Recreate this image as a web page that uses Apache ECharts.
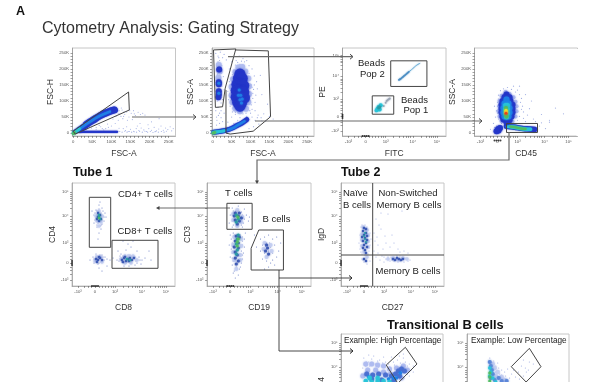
<!DOCTYPE html>
<html><head><meta charset="utf-8">
<style>html,body{margin:0;background:#fff}#c{width:600px;height:382px;filter:blur(0.45px)}</style>
<script src="https://cdn.jsdelivr.net/npm/echarts@6/dist/echarts.min.js"></script></head>
<body><div id="c"></div>
<script>
// tick values and labels
const linTicks=[0,50,100,150,200,250];
const linMinor=[0,10,20,30,40,50,60,70,80,90,100,110,120,130,140,150,160,170,180,190,200,210,220,230,240,250];
const biexTicks=[-17,0,20,47,71];
const biexLabels=['-10³','0','10³','10⁴','10⁵'];
const biexMinor=[-17,-11,-7,-4,0,4,7,10,13,16,18,20,28,33,37,40,42,44,47,55,60,63,65,67,69,71];

// gates (polygons in axis units)
const gateSinglets=[[0,6],[145,128],[147,72],[5,-3],[0,6]];
const gateGran=[[2,259],[61,262],[33,140],[26,82],[7,80],[2,259]];
const gateCells=[[59,259],[147,256],[153,51],[107,6],[46,-3],[35,0],[35,134]];
const gateBeads2=[[25,65],[61,65],[61,35],[25,35],[25,65]];
const gateBeads1=[[6.6,24],[28,24],[28,2.5],[6.6,2.5],[6.6,24]];
const gateLymph=[[9,30],[40,30],[40,2],[9,2],[9,30]];
const gateCD4=[[-5.7,65.7],[15.7,65.7],[15.7,15.7],[-5.7,15.7],[-5.7,65.7]];
const gateCD8=[[17,22.7],[63,22.7],[63,-5.3],[17,-5.3],[17,22.7]];
const gateT=[[-3.3,59.7],[21.7,59.7],[21.7,33.7],[-3.3,33.7],[-3.3,59.7]];
const gateB=[[28.3,33],[52.7,33],[52.7,-7],[20.7,-7],[20.7,14.7],[28.3,33]];
const quadV=[[8.7,-23],[8.7,80]];
const quadH=[[-23,8],[80,8]];
const gateHigh=[[42,66.7],[53.7,50],[34.4,30.7],[22.7,49],[42,66.7]];
const gateLow=[[40,65.7],[51.7,47.3],[36.7,32],[21.7,47.3],[40,65.7]];

// FSC-A / FSC-H
const p1Speck=[[122,60],[128,72],[135,58],[140,66],[146,50],[152,62],[158,70],[163,55],[170,65],[176,58],[182,62],[188,56],[130,45],[142,40],[155,42],[125,52],[118,40],[110,30],[100,22],[92,18],[85,14],[150,12],[158,6],[165,14],[172,8],[178,16],[185,10],[192,5],[198,14],[205,9],[212,18],[218,7],[224,13],[230,22],[236,9],[242,16],[248,11],[254,20],[258,7],[262,14],[140,20],[120,15],[205,35],[175,30],[225,45],[60,12],[72,20],[48,16],[80,10],[35,12],[126,78],[133,66],[120,70],[137,8],[144,5],[131,14],[168,22],[196,26],[244,6],[214,4],[122,5],[128,3],[135,6],[141,3],[147,5],[153,3],[160,4],[166,3],[174,5],[181,3],[188,6],[195,3],[202,5],[209,2],[216,5],[223,3],[231,5],[238,3],[60,18],[68,24],[76,14],[90,28],[104,44],[112,52],[118,60],[132,52],[160,60],[148,70]];
const p1BandA=[[3,3],[20,18],[40,33]];
const p1BandB=[[35,28],[50,39],[70,54],[90,65],[108,72]];
const p1BandAz=[[14,11],[34,28],[54,43],[74,56],[96,67]];
const p1BandCy=[[0,0],[8,6],[16,13]];
const p1Hor=[[6,4],[40,4],[80,4],[115,4]];
const p1Branch=[[18,5],[28,14],[40,26]];
const p1Green=[[1,-1],[3,2]];

// FSC-A / SSC-A
const p2Speck=[[8,248],[14,240],[20,252],[26,235],[18,226],[10,215],[24,210],[30,245],[36,228],[16,200],[22,188],[12,182],[28,176],[18,170],[9,140],[24,146],[30,135],[12,100],[22,94],[26,104],[8,70],[15,55],[22,48],[11,40],[26,36],[18,30],[30,62],[10,25],[44,200],[50,222],[56,238],[62,226],[70,240],[80,232],[90,226],[96,210],[104,200],[110,178],[116,160],[118,138],[114,118],[112,96],[104,74],[100,62],[90,52],[120,56],[128,48],[135,60],[140,38],[112,40],[122,28],[108,20],[96,14],[44,160],[40,130],[42,104],[46,84],[52,66],[60,58],[72,48],[84,222],[60,212],[102,150],[108,136],[50,50],[40,34],[145,90],[130,120],[126,180],[150,52],[160,44],
 [64,206],[72,214],[80,208],[88,198],[56,196],[52,182],[96,186],[100,168],[48,170],[46,146],[104,142],[106,124],[46,118],[48,96],[106,108],[102,88],[52,78],[98,70],[60,64],[70,62],[80,60],[88,62],[66,220],[76,224],[94,172],[48,132],[110,150],[112,70],[130,38],[118,48],[104,50],[56,30],[66,40],[16,235],[14,222],[20,205],[14,190],[8,165],[22,70],[14,80],[18,62],[10,50]];
const p2Pale=[[68,204],[78,206],[60,190],[86,192],[54,168],[94,170],[50,144],[96,146],[50,118],[96,122],[52,96],[94,96],[60,76],[88,76],[72,68],[16,212],[18,192],[15,172]];
const p2BlueBig=[[72,184],[68,170],[78,170],[64,152],[74,150],[82,148],[62,132],[72,130],[82,128],[62,112],[74,112],[84,110],[66,96],[76,94],[72,84]];
const p2BlueSmall=[[16,158],[16,152],[16,130],[16,120],[15,112],[17,198]];
const p2Azure=[[74,118],[72,104],[76,94],[70,134],[16,155],[16,124],[68,118],[78,106]];
const p2Band=[[3,3],[22,6],[44,12],[62,22],[78,32],[90,42]];
const p2BandAz=[[40,10],[54,16],[66,25],[84,37]];
const p2BandCy=[[1,2],[14,4],[30,7]];
const p2Green=[[1,0],[5,2]];

// FITC / PE
const p3Blue=[[33,42.6],[35,44],[37,46],[39,48],[41,50],[43,52]];
const p3Pale=[[43,52],[47,56],[51,60],[54,62]];
const p3Gray=[[21,18],[22,19],[23,20],[20,16],[24,21],[10,6],[18,12]];
const p3Cyan=[[12,9],[13,11],[15,13],[14,8],[11,7]];
const p3Teal=[[13,10],[14,11]];

// CD45 / SSC-A
const p4Speck=[[-1,70],[0,96],[1,118],[3,132],[6,138],[10,142],[14,136],[18,128],[24,108],[25,84],[26,66],[30,56],[36,44],[44,58],[52,40],[58,78],[34,100],[44,32],[52,34],[28,36],[-4,30],[-7,12],[-2,50],[-3,84],[22,146],[16,146],[28,120],[66,60],[32,76],[20,134],[22,120],[23,96],[24,74],[22,52],[1,106],[0,84],[0,62],[1,44],[-1,22],[-3,18],[-1,4],[4,30],[20,40],[26,46],[38,36],[42,22],[48,14]];
const p4Pale=[[8,128],[12,122],[4,116],[16,112],[2,100],[18,98],[2,84],[19,84],[1,68],[19,68],[2,52],[18,52],[4,38],[15,36]];
const p4Blue=[[9,120],[7,112],[12,112],[5,100],[13,100],[4,88],[15,88],[4,76],[15,76],[4,64],[15,64],[5,52],[14,52],[6,42],[12,40],[9,34],[0.5,12],[1,8],[2.5,16],[-1,6]];
const p4Azure=[[9,105],[7,92],[11,92],[6,78],[12,78],[6,64],[12,64],[7,52],[11,52]];
const p4Cyan=[[8,86],[10,86],[8,74],[10,74],[8,62],[10,62],[9,50]];
const p4Green=[[8.5,78],[8.5,70],[8.5,58],[9,52]];
const p4Yellow=[[8.5,70],[8.5,64]];
const p4Red=[[8.5,62]];
const p4Band=[[9,21],[14,20],[20,17],[26,14],[32,13],[37,11]];
const p4BandCy=[[10,21],[15,19],[21,16],[27,13],[33,12]];
const p4BandGr=[[13,20],[16,19],[24,14],[28,13]];

// CD8 / CD4
const p5Speck=[[1,53],[7,55],[4,58],[-1,48],[10,50],[9,42],[-1,40],[2,36],[6,34],[4,30],[3,24],[5,44],[8,47],[1,45],[3,40],[7,39],[2,52],[-3,52],[11,46],[5,61],[-2,6],[0,2],[3,-1],[6,1],[8,6],[1,9],[5,8],[9,3],[12,4],[15,3],[18,5],[22,3],[25,7],[27,1],[30,4],[33,8],[36,0],[38,5],[41,2],[44,6],[47,3],[50,5],[29,-3],[34,-3],[40,-2],[26,9],[31,13],[36,16],[33,19],[28,22],[42,12],[23,12],[-5,3],[12,-3],[46,-1],[56,3],[38,22],[4,-5],[7,-8],[54,12],
 [0,50],[2,48],[6,50],[8,52],[0,43],[7,43],[9,46],[6,38],[2,38],[4,54],[5,37],[-1,4],[-1,0],[1,7],[4,0],[7,8],[10,6],[24,2],[26,5],[28,7],[31,0],[33,1],[35,8],[37,7],[40,6],[42,0],[45,3]];
const p5Pale=[[4,52],[1,47],[7,47],[2,42],[6,41],[4,37],[2,6],[6,6],[0,2],[7,1],[26,4],[30,7],[34,7],[38,7],[30,0],[36,0],[42,3]];
const p5Blue=[[3,50],[5,48],[3,46],[6,44],[4,42],[2,44],[1,4],[3,3],[5,5],[7,3],[2,1],[4,6],[27,3],[29,5],[31,2],[33,4],[35,5],[37,3],[39,5],[30,6],[34,2],[28,1]];
const p5Teal=[[4,46],[5,44],[4,48],[32,4],[35,3]];
const p5Green=[[4,45]];

// CD19 / CD3
const p6Speck=[[2,55],[8,57],[14,54],[0,48],[16,48],[18,42],[-1,40],[2,36],[12,36],[5,52],[11,51],[19,46],[3,30],[10,28],[1,24],[14,24],[12,18],[1,14],[13,10],[0,6],[12,4],[2,-2],[10,-4],[4,-8],[8,-12],[5,-15],[9,-6],[3,-10],[-1,18],[15,30],[24,28],[30,24],[34,26],[38,28],[42,24],[46,26],[32,18],[36,20],[40,16],[44,18],[48,12],[30,12],[34,10],[38,8],[42,10],[46,6],[32,4],[36,2],[40,0],[44,-2],[38,-4],[34,-6],[42,3],[26,16],[50,20],[36,14],[38,12],[35,17],[39,20],
 [3,52],[12,48],[14,44],[2,42],[13,40],[3,38],[11,38],[4,28],[12,26],[2,20],[12,22],[2,10],[11,12],[3,2],[11,0],[6,-4],[2,5],[12,8],[14,16],[0,28]];
const p6Pale=[[7,53],[3,49],[12,46],[3,43],[11,41],[7,37],[4,26],[11,24],[3,18],[11,17],[3,11],[10,8],[4,3],[10,3],[6,-6],[34,20],[40,18],[33,14],[41,12],[36,6]];
const p6Blue=[[5,50],[9,50],[4,47],[8,47],[11,45],[5,43],[9,42],[7,39],[6,27],[9,26],[5,22],[8,20],[4,16],[8,15],[5,11],[7,8],[5,5],[8,2],[6,-1],[36,18],[37,15],[35,12],[38,9]];
const p6Teal=[[6,48],[8,44],[6,41],[8,28],[7,24],[6,19],[7,13],[6,9]];
const p6Green=[[7.5,46],[8,24],[7,21],[7,17]];

// CD27 / IgD
const p7Speck=[[-3,36],[1,38],[4,33],[6,30],[-4,28],[7,24],[-5,20],[6,18],[-4,14],[5,12],[-2,9],[3,6],[-1,3],[6,2],[0,1],[3,-1],[10,30],[13,26],[17,34],[22,20],[26,16],[30,20],[36,11],[14,18],[19,14],[12,44],[17,50],[24,49],[38,52],[34,14],[40,12],[44,10],[14,10],[18,7],[22,4],[26,2],[30,6],[34,1],[38,3],[42,5],[46,3],[16,3],[20,1],[24,6],[28,3],[32,4],[36,7],[40,1],[44,2],[11,22],[15,38],[21,27],[28,28],[10,12],[12,6],
 [-2,38],[0,33],[3,36],[5,27],[-3,24],[5,21],[-3,18],[5,15],[-3,11],[4,9],[1,8],[-2,4],[33,7],[36,2],[30,2],[38,6],[27,6],[20,6]];
const p7Pale=[[-1,36],[3,33],[-2,29],[4,28],[-2,23],[4,22],[-2,17],[4,16],[0,11],[3,6],[24,4],[29,5],[34,3],[39,5],[43,4]];
const p7Blue=[[0,35],[2,34],[-1,32],[2,30],[0,28],[3,27],[-2,26],[1,25],[3,23],[-1,22],[2,20],[0,18],[3,16],[-1,15],[1,13],[2,10],[33,5],[35,4],[37,3],[31,3],[29,4],[39,4],[0,4],[2,2]];
const p7Dark=[[1,24],[0,27],[2,21],[1,30]];

// Transitional, high percentage
const p8Speck=[[0,56],[3,52],[8,55],[12,50],[16,54],[22,52],[26,47],[30,52],[38,46],[42,52],[46,50],[48,44],[44,40],[50,48],[36,58],[40,60],[34,54],[28,57],[18,48],[6,48],[-1,46],[-2,40],[20,57],[10,58],[5,59],[2,48],[10,50],[15,47],[24,46],[32,46],[40,56],[44,48],[5,52],[14,53],[19,51],[25,50],[31,49],[37,51],[46,44],[50,42],[41,36],[46,38]];
const p8Pale=[[2,50],[8,50],[14,49],[20,48],[26,45],[4,44],[12,44],[20,42],[-1,38],[33,46],[40,48],[44,44],[27,40],[38,36]];
const p8Blue=[[3,40],[9,39],[15,40],[22,39],[28,38],[32,40],[35,43],[38,45],[41,43],[36,38],[30,33],[18,34],[8,35]];
const p8Azure=[[33,36],[37,41],[30,36],[25,35],[5,37]];
const p8Cyan=[[2,33],[8,32],[14,33],[20,33],[26,32],[6,36],[14,36]];

// Transitional, low percentage
const p9Speck=[[0,56],[-1,52],[2,50],[4,53],[6,48],[9,46],[12,44],[8,51],[15,42],[18,45],[22,40],[26,37],[30,35],[24,44],[29,42],[36,46],[40,52],[34,54],[44,50],[32,48],[39,44],[20,36],[14,36],[10,40],[4,44],[7,38],[12,39],[16,38],[6,42],[3,47],[18,34],[34,38],[37,42]];
const p9Pale=[[5,46],[8,42],[12,37],[6,38],[3,50],[15,34]];
const p9Blue=[[0,52],[1,48],[2,44],[3,40],[1,36],[5,34],[9,36],[12,33],[17,33]];
const p9Cyan=[[0,46],[1,42],[0,38],[3,36],[6,32]];
const p9Green=[[0,41],[0,37],[0,33]];

// events piled on the axis edges
const pileBottom=[[-3,-23],[-1,-23],[1,-23],[3,-23]];
const pileLeft=[[-23,2],[-23,0],[-23,-2]];

// panels
const LIN='lin',BIEX='bx';
const panels=[
 {x:72.5,y:48,w:103,h:88,xt:LIN,yt:LIN,xn:'FSC-A',yn:'FSC-H',gap:13},
 {x:212,y:48,w:102,h:88,xt:LIN,yt:LIN,xn:'FSC-A',yn:'SSC-A',gap:13},
 {x:342.5,y:48,w:103.5,h:88,xt:BIEX,yt:BIEX,xn:'FITC',yn:'PE',pile:1,gap:13},
 {x:474.5,y:48,w:103,h:88,xt:BIEX,yt:LIN,xn:'CD45',yn:'SSC-A',pileB:1,gap:13},
 {x:72,y:183,w:103,h:103,xt:BIEX,yt:BIEX,xn:'CD8',yn:'CD4',pile:1,gap:17},
 {x:207,y:183,w:104,h:103,xt:BIEX,yt:BIEX,xn:'CD19',yn:'CD3',pile:1,gap:17},
 {x:341,y:183,w:103,h:103,xt:BIEX,yt:BIEX,xn:'CD27',yn:'IgD',pile:1,gap:17},
 {x:341,y:334,w:102,h:103,xt:BIEX,yt:BIEX,xn:'',yn:'CD4',gap:17},
 {x:467,y:334,w:102,h:103,xt:BIEX,yt:BIEX,xn:'',yn:'',gap:17}
];
const C={speck:'#8b9bdc',pale:'#aebbef',soft:'#c3cdf0',blue:'#2436c8',azure:'#1f7fe6',cyan:'#28c4d8',teal:'#2a9aa4',green:'#50bc62',yellow:'#f0e030',red:'#e8401c',navy:'#3c58b4',gray:'#9aa4b4',sky:'#6fb0d8',mid:'#4a6ed0'};
const layers=[
 [0,p1Speck,C.speck,1.1],[0,p1Green,C.green,3],
 [1,p2Speck,C.speck,1.2],[1,p2Pale,C.pale,6],[1,p2BlueBig,C.blue,11],[1,p2BlueSmall,C.blue,6],[1,p2Azure,C.azure,3],[1,p2Green,C.green,3],
 [2,p3Gray,C.gray,2],[2,p3Cyan,C.cyan,4],[2,p3Teal,C.teal,3],
 [3,p4Speck,C.speck,1.2],[3,p4Pale,C.pale,4],[3,p4Blue,C.blue,6],[3,p4Azure,C.azure,6],[3,p4Cyan,C.cyan,5],[3,p4Green,C.green,4],[3,p4Yellow,C.yellow,3.5],[3,p4Red,C.red,3],
 [4,p5Speck,C.navy,1.1],[4,p5Pale,C.soft,3.5],[4,p5Blue,C.navy,2.5],[4,p5Teal,C.teal,2.5],[4,p5Green,C.green,2],
 [5,p6Speck,C.navy,1.1],[5,p6Pale,C.soft,4],[5,p6Blue,C.navy,3.2],[5,p6Teal,C.teal,3.2],[5,p6Green,C.green,3],
 [6,p7Speck,C.speck,1.2],[6,p7Pale,C.soft,3.5],[6,p7Blue,C.navy,2.5],[6,p7Dark,C.teal,2],
 [7,p8Speck,C.speck,1.2],[7,p8Pale,C.pale,5],[7,p8Blue,C.mid,5],[7,p8Azure,C.azure,3.5],[7,p8Cyan,C.cyan,4.5],
 [8,p9Speck,C.speck,1.2],[8,p9Pale,C.soft,4.5],[8,p9Blue,'#5c86d8',4],[8,p9Cyan,C.cyan,3.5],[8,p9Green,C.green,3]
];
const streaks=[
 [0,p1Hor,C.blue,2.2],[0,p1Branch,C.blue,3],[0,p1BandA,C.blue,4],[0,p1BandB,C.blue,7],[0,p1BandAz,C.azure,2.5],[0,p1BandCy,C.cyan,3],
 [1,p2Band,C.blue,5],[1,p2BandAz,C.azure,2.5],[1,p2BandCy,C.cyan,3],
 [2,p3Pale,C.sky,1],[2,p3Blue,'#4d8fc4',1.6],
 [3,p4Band,C.blue,5.5],[3,p4BandCy,C.cyan,3.5],[3,p4BandGr,C.green,2.2]
];
const outlines=[
 [0,gateSinglets],[1,gateGran],[1,gateCells],[2,gateBeads2],[2,gateBeads1],[3,gateLymph],
 [4,gateCD4],[4,gateCD8],[5,gateT],[5,gateB],[6,quadV],[6,quadH],[7,gateHigh],[8,gateLow]
];

const axisCfg=(type,name,i,dim,gap)=>{
 const lin=type===LIN, isX=dim==='x';
 const range=lin?(isX?[-2,268]:[-9,265]):[-23,80];
 return {type:'value',gridIndex:i,min:range[0],max:range[1],name:name,nameLocation:'middle',
  nameGap:isX?gap:15,nameTextStyle:{fontFamily:'Liberation Sans',fontSize:8.5,color:'#333'},
  splitLine:{show:false},axisLine:{onZero:false,lineStyle:{color:'#8a8a8a',width:.6}},
  axisTick:{show:true,length:2,inside:false,customValues:lin?linMinor:biexMinor,lineStyle:{color:'#444',width:.5}},
  axisLabel:{show:true,margin:3.5,fontSize:4.2,color:'#555',fontFamily:'Liberation Sans',hideOverlap:false,
   customValues:lin?linTicks:biexTicks,
   formatter:v=>lin?(v===0?'0':v+'K'):biexLabels[biexTicks.indexOf(v)]}};
};
const grid=panels.map(p=>({show:true,left:p.x,top:p.y,width:p.w,height:p.h,borderColor:'#c6c6c6',borderWidth:1,backgroundColor:'#fff',containLabel:false,outerBoundsMode:'none'}));
const xAxis=panels.map((p,i)=>axisCfg(p.xt,p.xn,i,'x',p.gap));
const yAxis=panels.map((p,i)=>axisCfg(p.yt,p.yn,i,'y',p.gap));
const series=[];
layers.forEach(([i,d,c,s])=>series.push({type:'scatter',xAxisIndex:i,yAxisIndex:i,data:d,symbolSize:s,z:s<2?2:3,itemStyle:{color:c,opacity:s<2?.8:.95,shadowBlur:s<2?0:2,shadowColor:c},silent:true,animation:false}));
streaks.forEach(([i,d,c,w])=>series.push({type:'line',xAxisIndex:i,yAxisIndex:i,data:d,showSymbol:false,smooth:true,silent:true,animation:false,z:3,lineStyle:{color:c,width:w,cap:'round',join:'round',shadowBlur:1.5,shadowColor:c}}));
outlines.forEach(([i,d])=>series.push({type:'line',xAxisIndex:i,yAxisIndex:i,data:d,showSymbol:false,silent:true,animation:false,clip:true,z:5,lineStyle:{color:'#444',width:1}}));
panels.forEach((p,i)=>{
 if(p.pile||p.pileB) series.push({type:'scatter',xAxisIndex:i,yAxisIndex:i,data:pileBottom,symbolSize:2,itemStyle:{color:'#111'},clip:false,silent:true,animation:false,z:6});
 if(p.pile) series.push({type:'scatter',xAxisIndex:i,yAxisIndex:i,data:pileLeft,symbolSize:2,itemStyle:{color:'#111'},clip:false,silent:true,animation:false,z:6});
});

const txt=(x,y,t,size,opt={})=>({type:'text',x,y,z:20,style:Object.assign({text:t,fontFamily:'Liberation Sans',fontSize:size,fill:'#222',textVerticalAlign:'middle',lineHeight:size*1.3},opt)});
const seg=(pts,color='#6a6a6a',w=1.2)=>({type:'polyline',z:15,shape:{points:pts},style:{stroke:color,lineWidth:w,fill:null}});
const headR=(x,y,color='#444')=>({type:'polyline',z:16,shape:{points:[[x-3,y-2.5],[x,y],[x-3,y+2.5]]},style:{stroke:color,lineWidth:1,fill:null}});
const headL=(x,y,color='#444')=>({type:'polygon',z:16,shape:{points:[[x,y],[x+3.5,y-2],[x+3.5,y+2]]},style:{fill:color}});
const headD=(x,y,color='#444')=>({type:'polygon',z:16,shape:{points:[[x,y],[x-2,y-3.5],[x+2,y-3.5]]},style:{fill:color}});
const graphic=[
 txt(16,12,'A',12.5,{fontWeight:'bold',fill:'#111'}),
 txt(42,29,'Cytometry Analysis: Gating Strategy',16,{fill:'#333'}),
 txt(73,172.5,'Tube 1',12.5,{fontWeight:'bold',fill:'#111'}),
 txt(341,172.5,'Tube 2',12.5,{fontWeight:'bold',fill:'#111'}),
 txt(387,325,'Transitional B cells',12.8,{fontWeight:'bold',fill:'#111'}),
 txt(358,63,'Beads',9.5),txt(360,74,'Pop 2',9.5),
 txt(401,100,'Beads',9.5),txt(403.5,110,'Pop 1',9.5),
 txt(118,194.5,'CD4+ T cells',9.5),txt(117.5,231.5,'CD8+ T cells',9.5),
 txt(225,193.5,'T cells',9.5),txt(262.5,219,'B cells',9.5),
 txt(343,193.5,'Naïve',9.5),txt(343,205.5,'B cells',9.5),
 txt(378.5,193.5,'Non-Switched',9.5),txt(376.5,205.5,'Memory B cells',9.5),
 txt(375.5,271.5,'Memory B cells',9.5),
 txt(344,340.5,'Example: High Percentage',8.2),txt(471,341,'Example: Low Percentage',8.2),
 {type:'line',z:14,shape:{x1:577.5,y1:49,x2:577.5,y2:136},style:{stroke:'#fff',lineWidth:2}},
 seg([[132,117],[195,117]]),headR(196,117),
 seg([[228,56.7],[352,56.7]]),headR(353,56.7),
 seg([[255,121],[481,121]]),headR(482,121),
 seg([[509,132],[509,160],[257,160],[257,181]]),headD(257,184),
 seg([[230,208],[158,208]],'#444',.8),headL(156,208),
 seg([[279,270],[279,351],[352,351]],'#333',.9),headR(353,351,'#222'),
 seg([[279,278],[351,278]],'#333',.9),headR(352,278,'#222')
];
const chart=echarts.init(document.getElementById('c'),null,{renderer:'canvas'});
chart.setOption({animation:false,backgroundColor:'#fff',grid,xAxis,yAxis,series,graphic});
</script></body></html>
